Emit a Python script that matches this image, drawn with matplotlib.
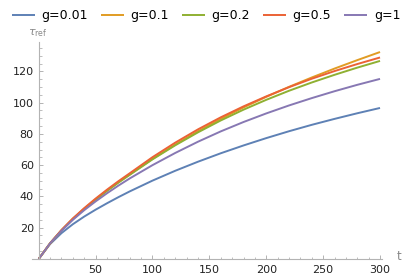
import matplotlib
matplotlib.use("Agg")
import matplotlib.pyplot as plt
from matplotlib.ticker import FixedLocator

t = [0, 10, 20, 30, 40, 50, 60, 70, 80, 100, 120, 140, 160, 180, 200, 220, 240, 260, 280, 300]

g001 = [0, 9.5, 16.5, 22.2, 27.1, 31.5, 35.6, 39.5, 43.2, 50.1, 56.4, 62.2, 67.6, 72.6, 77.3, 81.7, 85.8, 89.6, 93.2, 96.6]
g01 = [0, 10, 18.3, 25.6, 32.1, 38.1, 43.7, 49.0, 54.0, 64.0, 73.2, 81.7, 89.6, 96.9, 103.7, 110.1, 116.1, 121.8, 127.2, 132.4]
g02 = [0, 10, 18.3, 25.6, 32.0, 37.9, 43.5, 48.8, 53.8, 63.7, 72.7, 81.0, 88.6, 95.5, 101.8, 107.6, 112.9, 117.8, 122.4, 126.7]
g05 = [0, 10, 18.5, 25.9, 32.5, 38.6, 44.3, 49.7, 54.8, 65.1, 74.4, 82.9, 90.6, 97.6, 104.0, 109.9, 115.3, 120.2, 124.7, 128.9]
g1 = [0, 10, 18, 25, 31.2, 36.8, 42, 46.9, 51.5, 60, 67.8, 75, 81.6, 87.6, 93.1, 98.2, 102.9, 107.3, 111.4, 115.2]

labels = ["g=0.01", "g=0.1", "g=0.2", "g=0.5", "g=1"]
series = [g001, g01, g02, g05, g1]
colors = ["#5E81B5", "#E19C24", "#8FB032", "#EB6235", "#8778B3"]

xticks = [50, 100, 150, 200, 250, 300]
yticks = [20, 40, 60, 80, 100, 120]

W, H = 415, 277
fig = plt.figure(figsize=(W / 100, H / 100), dpi=100)
ax = fig.add_axes([31.9 / W, 18.1 / H, 350.4 / W, 217.2 / H])

handles = []
for y, c, lab in zip(series, colors, labels):
    h, = ax.plot(t, y, color=c, lw=1.4, label=lab, clip_on=False, solid_capstyle="butt")
    handles.append(h)

ax.set_xlim(-6, 302)
ax.set_ylim(0, 139)

axcol = "#b3b3b3"
for s in ["top", "right"]:
    ax.spines[s].set_visible(False)
ax.spines["left"].set_position(("data", 0))
ax.spines["bottom"].set_position(("data", 0))
ax.spines["left"].set_color(axcol)
ax.spines["bottom"].set_color(axcol)
ax.spines["left"].set_linewidth(0.8)
ax.spines["bottom"].set_linewidth(0.8)

ax.xaxis.set_major_locator(FixedLocator(xticks))
ax.xaxis.set_minor_locator(FixedLocator([v for v in range(10, 301, 10) if v % 50 != 0]))
ax.yaxis.set_major_locator(FixedLocator(yticks))
ax.yaxis.set_minor_locator(FixedLocator([v for v in range(5, 139, 5) if v % 20 != 0]))

ax.tick_params(which="both", direction="in", color=axcol, labelsize=8, labelcolor="#222222")
ax.tick_params(which="major", length=3.2, width=0.7)
ax.tick_params(which="minor", length=1.8, width=0.6)
ax.tick_params(axis="x", which="major", pad=4.5)
ax.tick_params(axis="y", which="major", pad=3.5)

fig.text(38 / W, 1 - 33 / H, r"$\tau_{\mathrm{ref}}$", color="#888888", fontsize=8,
         ha="center", va="center")
fig.text(399 / W, 1 - 257 / H, "t", color="#888888", fontsize=8.5, ha="center", va="center")

fig.legend(handles=handles, labels=labels, loc="center", bbox_to_anchor=(206 / W, 1 - 16 / H),
           ncol=5, frameon=False, fontsize=9, handlelength=1.85, handletextpad=0.55,
           columnspacing=1.0, borderaxespad=0, borderpad=0)

fig.savefig("out.png", dpi=100)
